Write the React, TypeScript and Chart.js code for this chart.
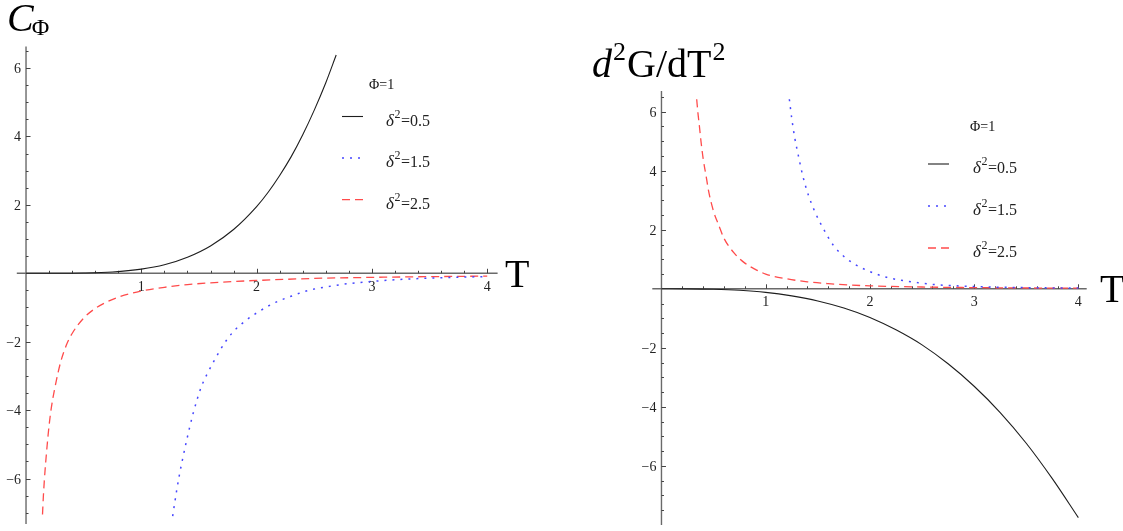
import React, { useEffect, useRef } from "react";
import { Chart, registerables } from "chart.js";

Chart.register(...registerables);

// ---------- DATA ----------
// Left panel: C_Phi vs T
const T_C_BLACK = [0, 0.25, 0.5, 0.75, 1.0, 1.2, 1.4, 1.6, 1.8, 2.0, 2.1, 2.2, 2.3, 2.4, 2.5, 2.6, 2.69];
const C_BLACK = [0, 0.0005, 0.008, 0.039, 0.122, 0.25, 0.47, 0.8, 1.28, 1.95, 2.37, 2.86, 3.41, 4.05, 4.77, 5.57, 6.38];

const T_C_BLUE = [1.272, 1.29, 1.307, 1.33, 1.35, 1.394, 1.45, 1.52, 1.57, 1.62, 1.68, 1.74, 1.82, 1.91, 2.0, 2.145, 2.3, 2.45, 2.6, 2.8, 3.0, 3.2, 3.4, 3.6, 3.8, 4.0];
const C_BLUE = [-7.1, -6.7, -6.34, -5.9, -5.56, -4.87, -4.09, -3.32, -2.95, -2.63, -2.27, -1.95, -1.63, -1.37, -1.16, -0.88, -0.67, -0.5, -0.4, -0.3, -0.24, -0.19, -0.155, -0.13, -0.11, -0.1];

const T_C_RED = [0.143, 0.15, 0.16, 0.18, 0.2, 0.22, 0.25, 0.3, 0.35, 0.4, 0.5, 0.6, 0.7, 0.8, 1.0, 1.2, 1.4, 1.6, 1.8, 2.0, 2.5, 3.0, 3.5, 4.0];
const C_RED = [-7.05, -6.55, -6.0, -5.15, -4.45, -3.92, -3.35, -2.6, -2.1, -1.76, -1.31, -1.03, -0.84, -0.7, -0.52, -0.41, -0.33, -0.28, -0.24, -0.21, -0.15, -0.12, -0.098, -0.082];

// Right panel: d2G/dT2 vs T
const T_G_BLACK = [0, 0.25, 0.5, 0.75, 1.0, 1.25, 1.5, 1.75, 2.0, 2.25, 2.5, 2.75, 3.0, 3.25, 3.5, 3.75, 4.0];
const G_BLACK = [0, -0.002, -0.015, -0.05, -0.12, -0.24, -0.41, -0.65, -0.97, -1.39, -1.9, -2.54, -3.3, -4.19, -5.23, -6.43, -7.75];

const T_G_BLUE = [1.227, 1.25, 1.28, 1.313, 1.355, 1.41, 1.473, 1.553, 1.65, 1.777, 1.937, 2.16, 2.3, 2.45, 2.6, 2.8, 3.0, 3.2, 3.4, 3.6, 3.8, 4.0];
const G_BLUE = [6.42, 5.77, 5.09, 4.52, 3.84, 3.17, 2.6, 2.04, 1.47, 1.02, 0.68, 0.39, 0.29, 0.21, 0.15, 0.105, 0.078, 0.058, 0.045, 0.035, 0.03, 0.025];

const T_G_RED = [0.338, 0.35, 0.363, 0.38, 0.4, 0.434, 0.45, 0.5, 0.55, 0.6, 0.7, 0.8, 0.9, 1.0, 1.2, 1.4, 1.6, 1.8, 2.0, 2.5, 3.0, 3.5, 4.0];
const G_RED = [6.42, 5.95, 5.54, 4.97, 4.41, 3.7, 3.35, 2.62, 2.15, 1.71, 1.2, 0.87, 0.66, 0.5, 0.34, 0.237, 0.174, 0.13, 0.1, 0.061, 0.04, 0.028, 0.02];

// Legend / tick labels
const LEGEND_TITLE = "Φ=1";
const DELTA_SQ = ["0.5", "1.5", "2.5"];
const X_TICK_VALUES = [1, 2, 3, 4];
const X_TICK_LABELS = ["1", "2", "3", "4"];
const Y_TICK_VALUES = [6, 4, 2, -2, -4, -6];
const Y_TICK_LABELS = ["6", "4", "2", "−2", "−4", "−6"];

const SERIF = '"Liberation Serif", "Times New Roman", serif';
const COLORS = ["#1e1e1e", "rgb(70,70,255)", "rgb(255,75,75)"];
const DASHES: number[][] = [[], [2, 6], [8, 5]];
const WIDTHS = [1.1, 1.5, 1.3];

type PanelCfg = {
  canvasW: number;
  canvasH: number;
  pad: { left: number; right: number; top: number; bottom: number };
  xMin: number;
  xMax: number;
  yMin: number;
  yMax: number;
  yMinorFrom: number;
  yMinorTo: number;
  legend: { titleX: number; titleY: number; lineX0: number; lineX1: number; lineY0: number; dy: number; textX: number };
  title: (ctx: CanvasRenderingContext2D) => void;
  tLabel: { x: number; y: number };
};

function makeDatasets(ts: number[][], vs: number[][]) {
  return ts.map((t, i) => ({
    label: "δ²=" + DELTA_SQ[i],
    data: t.map((tv, j) => ({ x: tv, y: vs[i][j] })),
    borderColor: COLORS[i],
    backgroundColor: COLORS[i],
    borderWidth: WIDTHS[i],
    borderDash: DASHES[i],
    pointRadius: 0,
    fill: false,
    cubicInterpolationMode: "monotone" as const,
    showLine: true,
  }));
}

function mmaPlugin(cfg: PanelCfg) {
  return {
    id: "mmaAxes",
    beforeDatasetsDraw(chart: any) {
      const { ctx, chartArea } = chart;
      const xs = chart.scales.x;
      const ys = chart.scales.y;
      const x0 = xs.getPixelForValue(0);
      const y0 = ys.getPixelForValue(0);
      ctx.save();
      // axes
      ctx.strokeStyle = "#6a6a6a";
      ctx.lineWidth = 1.4;
      ctx.beginPath();
      ctx.moveTo(chartArea.left, y0);
      ctx.lineTo(chartArea.right, y0);
      ctx.moveTo(x0, chartArea.top);
      ctx.lineTo(x0, chartArea.bottom);
      ctx.stroke();
      // x ticks (minor every 0.2, major on integers) pointing up
      ctx.strokeStyle = "#444";
      ctx.lineWidth = 1;
      ctx.beginPath();
      for (let i = 1; i <= 20; i++) {
        const v = i / 5;
        const px = Math.round(xs.getPixelForValue(v)) + 0.5;
        const len = i % 5 === 0 ? 4.5 : 2.5;
        ctx.moveTo(px, y0);
        ctx.lineTo(px, y0 - len);
      }
      // y ticks (minor every 0.5, major on even) pointing right
      for (let k = Math.round(cfg.yMinorFrom * 2); k <= Math.round(cfg.yMinorTo * 2); k++) {
        if (k === 0) continue;
        const v = k / 2;
        const py = Math.round(ys.getPixelForValue(v)) + 0.5;
        const len = k % 4 === 0 ? 4.5 : 2.5;
        ctx.moveTo(x0, py);
        ctx.lineTo(x0 + len, py);
      }
      ctx.stroke();
      // tick labels
      ctx.fillStyle = "#222";
      ctx.font = "14px " + SERIF;
      ctx.textAlign = "center";
      ctx.textBaseline = "alphabetic";
      X_TICK_VALUES.forEach((v, i) => {
        ctx.fillText(X_TICK_LABELS[i], xs.getPixelForValue(v), y0 + 17.5);
      });
      ctx.textAlign = "right";
      Y_TICK_VALUES.forEach((v, i) => {
        ctx.fillText(Y_TICK_LABELS[i], x0 - 5, ys.getPixelForValue(v) + 5);
      });
      ctx.restore();
    },
    afterDatasetsDraw(chart: any) {
      const { ctx } = chart;
      const L = cfg.legend;
      ctx.save();
      ctx.fillStyle = "#111";
      ctx.textAlign = "left";
      ctx.textBaseline = "alphabetic";
      ctx.font = "14px " + SERIF;
      ctx.fillText(LEGEND_TITLE, L.titleX, L.titleY);
      chart.data.datasets.forEach((ds: any, i: number) => {
        const y = L.lineY0 + i * L.dy;
        ctx.strokeStyle = ds.borderColor;
        ctx.lineWidth = ds.borderWidth;
        ctx.setLineDash(ds.borderDash || []);
        ctx.beginPath();
        ctx.moveTo(L.lineX0, y);
        ctx.lineTo(L.lineX1, y);
        ctx.stroke();
        ctx.setLineDash([]);
        const by = y + 9;
        let x = L.textX;
        ctx.fillStyle = "#222";
        ctx.font = "italic 17px " + SERIF;
        ctx.fillText("δ", x, by);
        x += ctx.measureText("δ").width + 0.5;
        ctx.font = "12px " + SERIF;
        ctx.fillText("2", x, by - 8);
        x += ctx.measureText("2").width + 0.5;
        ctx.font = "16px " + SERIF;
        ctx.fillText("=" + DELTA_SQ[i], x, by);
      });
      // panel title and axis label
      cfg.title(ctx);
      ctx.fillStyle = "#000";
      ctx.font = "40px " + SERIF;
      ctx.textAlign = "left";
      ctx.fillText("T", cfg.tLabel.x, cfg.tLabel.y);
      ctx.restore();
    },
  };
}

function Panel({ cfg, ts, vs, left }: { cfg: PanelCfg; ts: number[][]; vs: number[][]; left: number }) {
  const ref = useRef<HTMLCanvasElement>(null);
  useEffect(() => {
    if (!ref.current) return;
    const chart = new Chart(ref.current, {
      type: "scatter",
      data: { datasets: makeDatasets(ts, vs) as any },
      options: {
        responsive: false,
        animation: false,
        devicePixelRatio: 1,
        layout: { padding: cfg.pad },
        plugins: { legend: { display: false }, tooltip: { enabled: false }, title: { display: false } },
        scales: {
          x: { type: "linear", min: cfg.xMin, max: cfg.xMax, display: false },
          y: { type: "linear", min: cfg.yMin, max: cfg.yMax, display: false },
        },
      },
      plugins: [mmaPlugin(cfg)],
    });
    return () => chart.destroy();
  }, []);
  return (
    <canvas
      ref={ref}
      width={cfg.canvasW}
      height={cfg.canvasH}
      style={{ position: "absolute", left, top: 0, width: cfg.canvasW, height: cfg.canvasH }}
    />
  );
}

const leftCfg: PanelCfg = {
  canvasW: 560,
  canvasH: 531,
  // T=0 at x=26, 115.3 px/unit; C=0 at y=273.3, 34.2 px/unit
  pad: { left: 16.8, right: 560 - 497.6, top: 46.5, bottom: 531 - 524 },
  xMin: -0.08,
  xMax: 4.09,
  yMin: -7.33,
  yMax: 6.63,
  yMinorFrom: -7,
  yMinorTo: 6.5,
  legend: { titleX: 369, titleY: 89, lineX0: 342, lineX1: 363, lineY0: 116.5, dy: 41.6, textX: 386 },
  title: (ctx) => {
    ctx.fillStyle = "#000";
    ctx.textAlign = "left";
    ctx.font = "italic 40px " + SERIF;
    ctx.fillText("C", 7, 31);
    const w = ctx.measureText("C").width;
    ctx.font = "24px " + SERIF;
    ctx.fillText("Φ", 7 + w - 2, 35);
  },
  tLabel: { x: 505, y: 287 },
};

const rightCfg: PanelCfg = {
  canvasW: 563,
  canvasH: 531,
  // T=0 at x=661.5 (local 101.5), 104.2 px/unit; y=0 at 288.7, 29.55 px/unit
  pad: { left: 92.3, right: 1123 - 1086.7, top: 91, bottom: 531 - 525 },
  xMin: -0.088,
  xMax: 4.08,
  yMin: -8.0,
  yMax: 6.7,
  yMinorFrom: -7.5,
  yMinorTo: 6.5,
  legend: { titleX: 410, titleY: 130.5, lineX0: 368, lineX1: 389, lineY0: 164, dy: 42, textX: 413 },
  title: (ctx) => {
    ctx.fillStyle = "#000";
    ctx.textAlign = "left";
    let x = 32;
    const by = 77;
    ctx.font = "italic 40px " + SERIF;
    ctx.fillText("d", x, by);
    x += ctx.measureText("d").width + 1;
    ctx.font = "26px " + SERIF;
    ctx.fillText("2", x, by - 17);
    x += ctx.measureText("2").width + 1;
    ctx.font = "40px " + SERIF;
    ctx.fillText("G/dT", x, by);
    x += ctx.measureText("G/dT").width + 1;
    ctx.font = "26px " + SERIF;
    ctx.fillText("2", x, by - 17);
  },
  tLabel: { x: 540, y: 302 },
};

export default function App() {
  return (
    <div style={{ position: "fixed", left: 0, top: 0, width: 1123, height: 531, background: "#fff", overflow: "hidden" }}>
      <Panel cfg={leftCfg} ts={[T_C_BLACK, T_C_BLUE, T_C_RED]} vs={[C_BLACK, C_BLUE, C_RED]} left={0} />
      <Panel cfg={rightCfg} ts={[T_G_BLACK, T_G_BLUE, T_G_RED]} vs={[G_BLACK, G_BLUE, G_RED]} left={560} />
    </div>
  );
}
